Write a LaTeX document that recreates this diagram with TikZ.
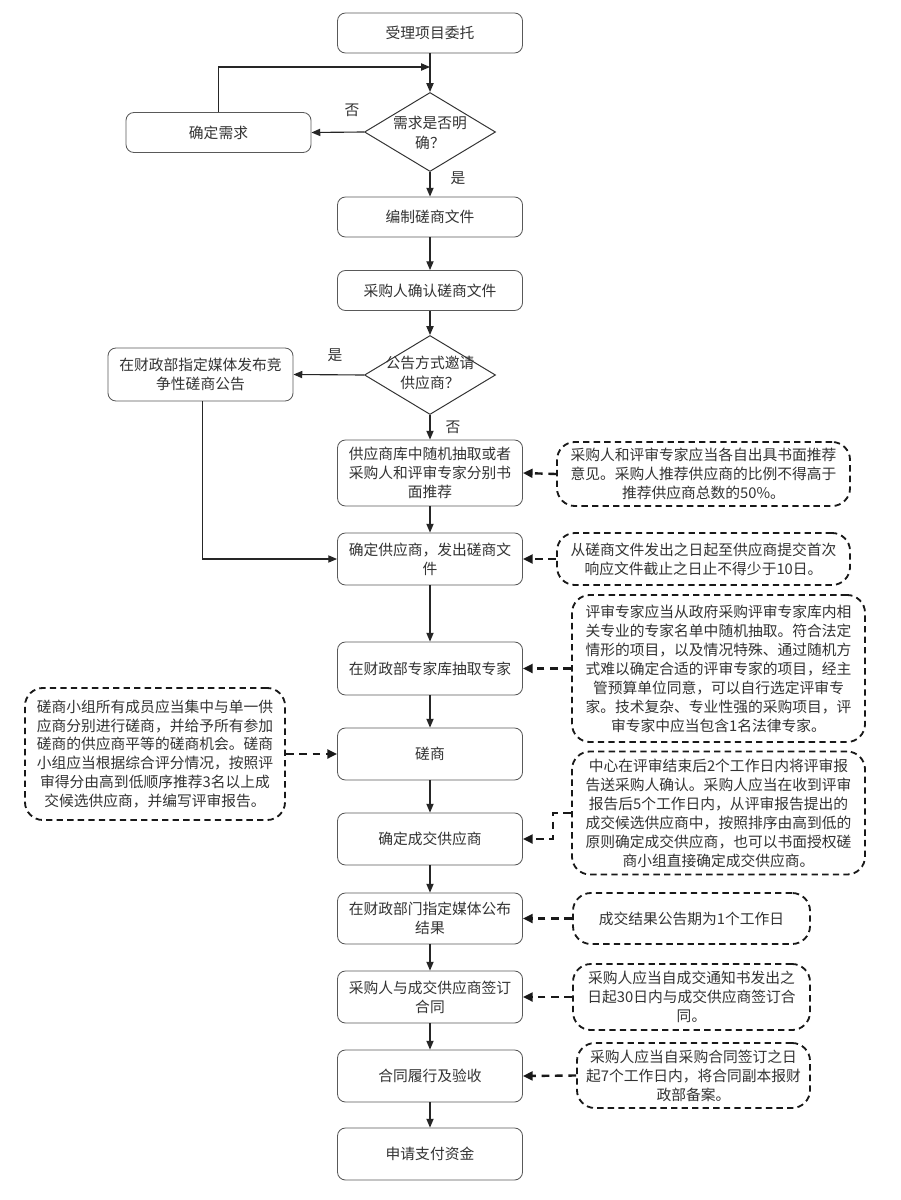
\documentclass[tikz,border=0pt]{standalone}
\usepackage{fontspec}
\setmainfont{Noto Sans CJK SC}
\usetikzlibrary{shapes.geometric,arrows.meta}

\tikzset{
  box/.style={draw=black!65, line width=0.6pt, rounded corners=0.2cm,
    minimum width=4.625cm, minimum height=1cm, align=center, inner sep=1pt,
    text=black!80, font=\fontsize{10.5pt}{13.5pt}\selectfont},
  ask/.style={diamond, draw=black!80, line width=0.7pt,
    minimum width=3.275cm, minimum height=1.975cm, inner sep=0pt},
  asktext/.style={align=center, inner sep=0pt, text=black!80,
    font=\fontsize{10.5pt}{14pt}\selectfont},
  memo/.style={draw=black!90, line width=1.3pt, dash pattern=on 4.5pt off 3pt,
    rounded corners=0.45cm, align=center, inner sep=1pt, text=black!80,
    font=\fontsize{10.5pt}{13.5pt}\selectfont},
  tag/.style={text=black!80, inner sep=0pt, font=\fontsize{10.5pt}{13pt}\selectfont},
  flow/.style={draw=black!85, line width=0.8pt, -{Triangle[length=0.22cm,width=0.18cm]}},
  hint/.style={draw=black!90, line width=1.7pt, dash pattern=on 5.5pt off 4pt,
    -{Triangle[length=0.24cm,width=0.22cm]}},
}

\begin{document}
\begin{tikzpicture}[x=0.025cm,y=-0.025cm]
\useasboundingbox[fill=white] (0,0) rectangle (900,1200);

% main column
\node[box] (start) at (430,33) {受理项目委托};
\node[ask] (q1) at (430,132) {};
\node[asktext] (q1t) at (430,133) {需求是否明\\确？};
\node[box] (need) at (218.5,132.5) {确定需求};
\node[box] (draft) at (430,217) {编制磋商文件};
\node[box] (confirm) at (430,290.5) {采购人确认磋商文件};
\node[ask] (q2) at (430,375) {};
\node[asktext] (q2t) at (430,373) {公告方式邀请\\供应商？};
\node[box, minimum height=1.325cm] (notice) at (200.5,374.5) {在财政部指定媒体发布竞\\争性磋商公告};
\node[box, minimum height=1.65cm] (pick) at (430,473) {供应商库中随机抽取或者\\采购人和评审专家分别书\\面推荐};
\node[box, minimum height=1.3cm] (supplier) at (430,559) {确定供应商，发出磋商文\\件};
\node[box, minimum height=1.325cm] (expert) at (430,668.5) {在财政部专家库抽取专家};
\node[box, minimum height=1.3cm] (nego) at (430,754) {磋商};
\node[box, minimum height=1.3cm] (deal) at (430,839) {确定成交供应商};
\node[box, minimum height=1.275cm] (publish) at (430,918.5) {在财政部门指定媒体公布\\结果};
\node[box, minimum height=1.3cm] (sign) at (430,997) {采购人与成交供应商签订\\合同};
\node[box, minimum height=1.3cm] (perform) at (430,1076) {合同履行及验收};
\node[box, minimum height=1.3cm] (pay) at (430,1154) {申请支付资金};

% yes / no labels
\node[tag] (no1) at (352,110) {否};
\node[tag] (yes1) at (458,178) {是};
\node[tag] (yes2) at (335,355) {是};
\node[tag] (no2) at (453,427) {否};

% notes
\node[memo, minimum width=7.325cm, minimum height=1.6cm] (n1) at (703.5,474)
  {采购人和评审专家应当各自出具书面推荐\\意见。采购人推荐供应商的比例不得高于\\推荐供应商总数的50\%。};
\node[memo, minimum width=7.325cm, minimum height=1.3cm] (n2) at (703.5,559)
  {从磋商文件发出之日起至供应商提交首次\\响应文件截止之日止不得少于10日。};
\node[memo, minimum width=7.325cm, minimum height=3.675cm] (n3) at (718.5,668.5)
  {评审专家应当从政府采购评审专家库内相\\关专业的专家名单中随机抽取。符合法定\\情形的项目，以及情况特殊、通过随机方\\式难以确定合适的评审专家的项目，经主\\管预算单位同意，可以自行选定评审专\\家。技术复杂、专业性强的采购项目，评\\审专家中应当包含1名法律专家。};
\node[memo, minimum width=6.5cm, minimum height=3.3cm] (nl) at (155,754)
  {磋商小组所有成员应当集中与单一供\\应商分别进行磋商，并给予所有参加\\磋商的供应商平等的磋商机会。磋商\\小组应当根据综合评分情况，按照评\\审得分由高到低顺序推荐3名以上成\\交候选供应商，并编写评审报告。};
\node[memo, minimum width=7.325cm, minimum height=3.075cm] (n4) at (718.5,813)
  {中心在评审结束后2个工作日内将评审报\\告送采购人确认。采购人应当在收到评审\\报告后5个工作日内，从评审报告提出的\\成交候选供应商中，按照排序由高到低的\\原则确定成交供应商，也可以书面授权磋\\商小组直接确定成交供应商。};
\node[memo, minimum width=5.925cm, minimum height=1.275cm] (n5) at (691.5,918.5)
  {成交结果公告期为1个工作日};
\node[memo, minimum width=5.925cm, minimum height=1.65cm] (n6) at (691.5,997)
  {采购人应当自成交通知书发出之\\日起30日内与成交供应商签订合\\同。};
\node[memo, minimum width=5.825cm, minimum height=1.625cm] (n7) at (693.5,1075.5)
  {采购人应当自采购合同签订之日\\起7个工作日内，将合同副本报财\\政部备案。};

% bend points
\coordinate (loop) at (430,67);
\coordinate (bend) at (553,813);

% solid connectors
\draw[flow] (start) -- (q1);
\draw[flow] (need.north) |- (loop);
\draw[flow] (q1.west) -- (need.east);
\draw[flow] (q1.south) -- (draft.north);
\draw[flow] (draft) -- (confirm);
\draw[flow] (confirm) -- (q2.north);
\draw[flow] (q2.west) -- (notice.east);
\draw[flow] (q2.south) -- (pick.north);
\draw[flow] (pick) -- (supplier);
\draw[flow] ([xshift=1.5]notice.south) |- (supplier.west);
\draw[flow] (supplier) -- (expert);
\draw[flow] (expert) -- (nego);
\draw[flow] (nego) -- (deal);
\draw[flow] (deal) -- (publish);
\draw[flow] (publish) -- (sign);
\draw[flow] (sign) -- (perform);
\draw[flow] (perform) -- (pay);

% dashed connectors
\draw[hint] (n1.west) -- (pick.east);
\draw[hint] (n2.west) -- (supplier.east);
\draw[hint] (n3.west) -- (expert.east);
\draw[hint] (nl.east) -- (nego.west);
\draw[hint] (n4.west) -- (bend) |- (deal.east);
\draw[hint] (n5.west) -- (publish.east);
\draw[hint] (n6.west) -- (sign.east);
\draw[hint] (n7.west) -- (perform.east);
\end{tikzpicture}
\end{document}
